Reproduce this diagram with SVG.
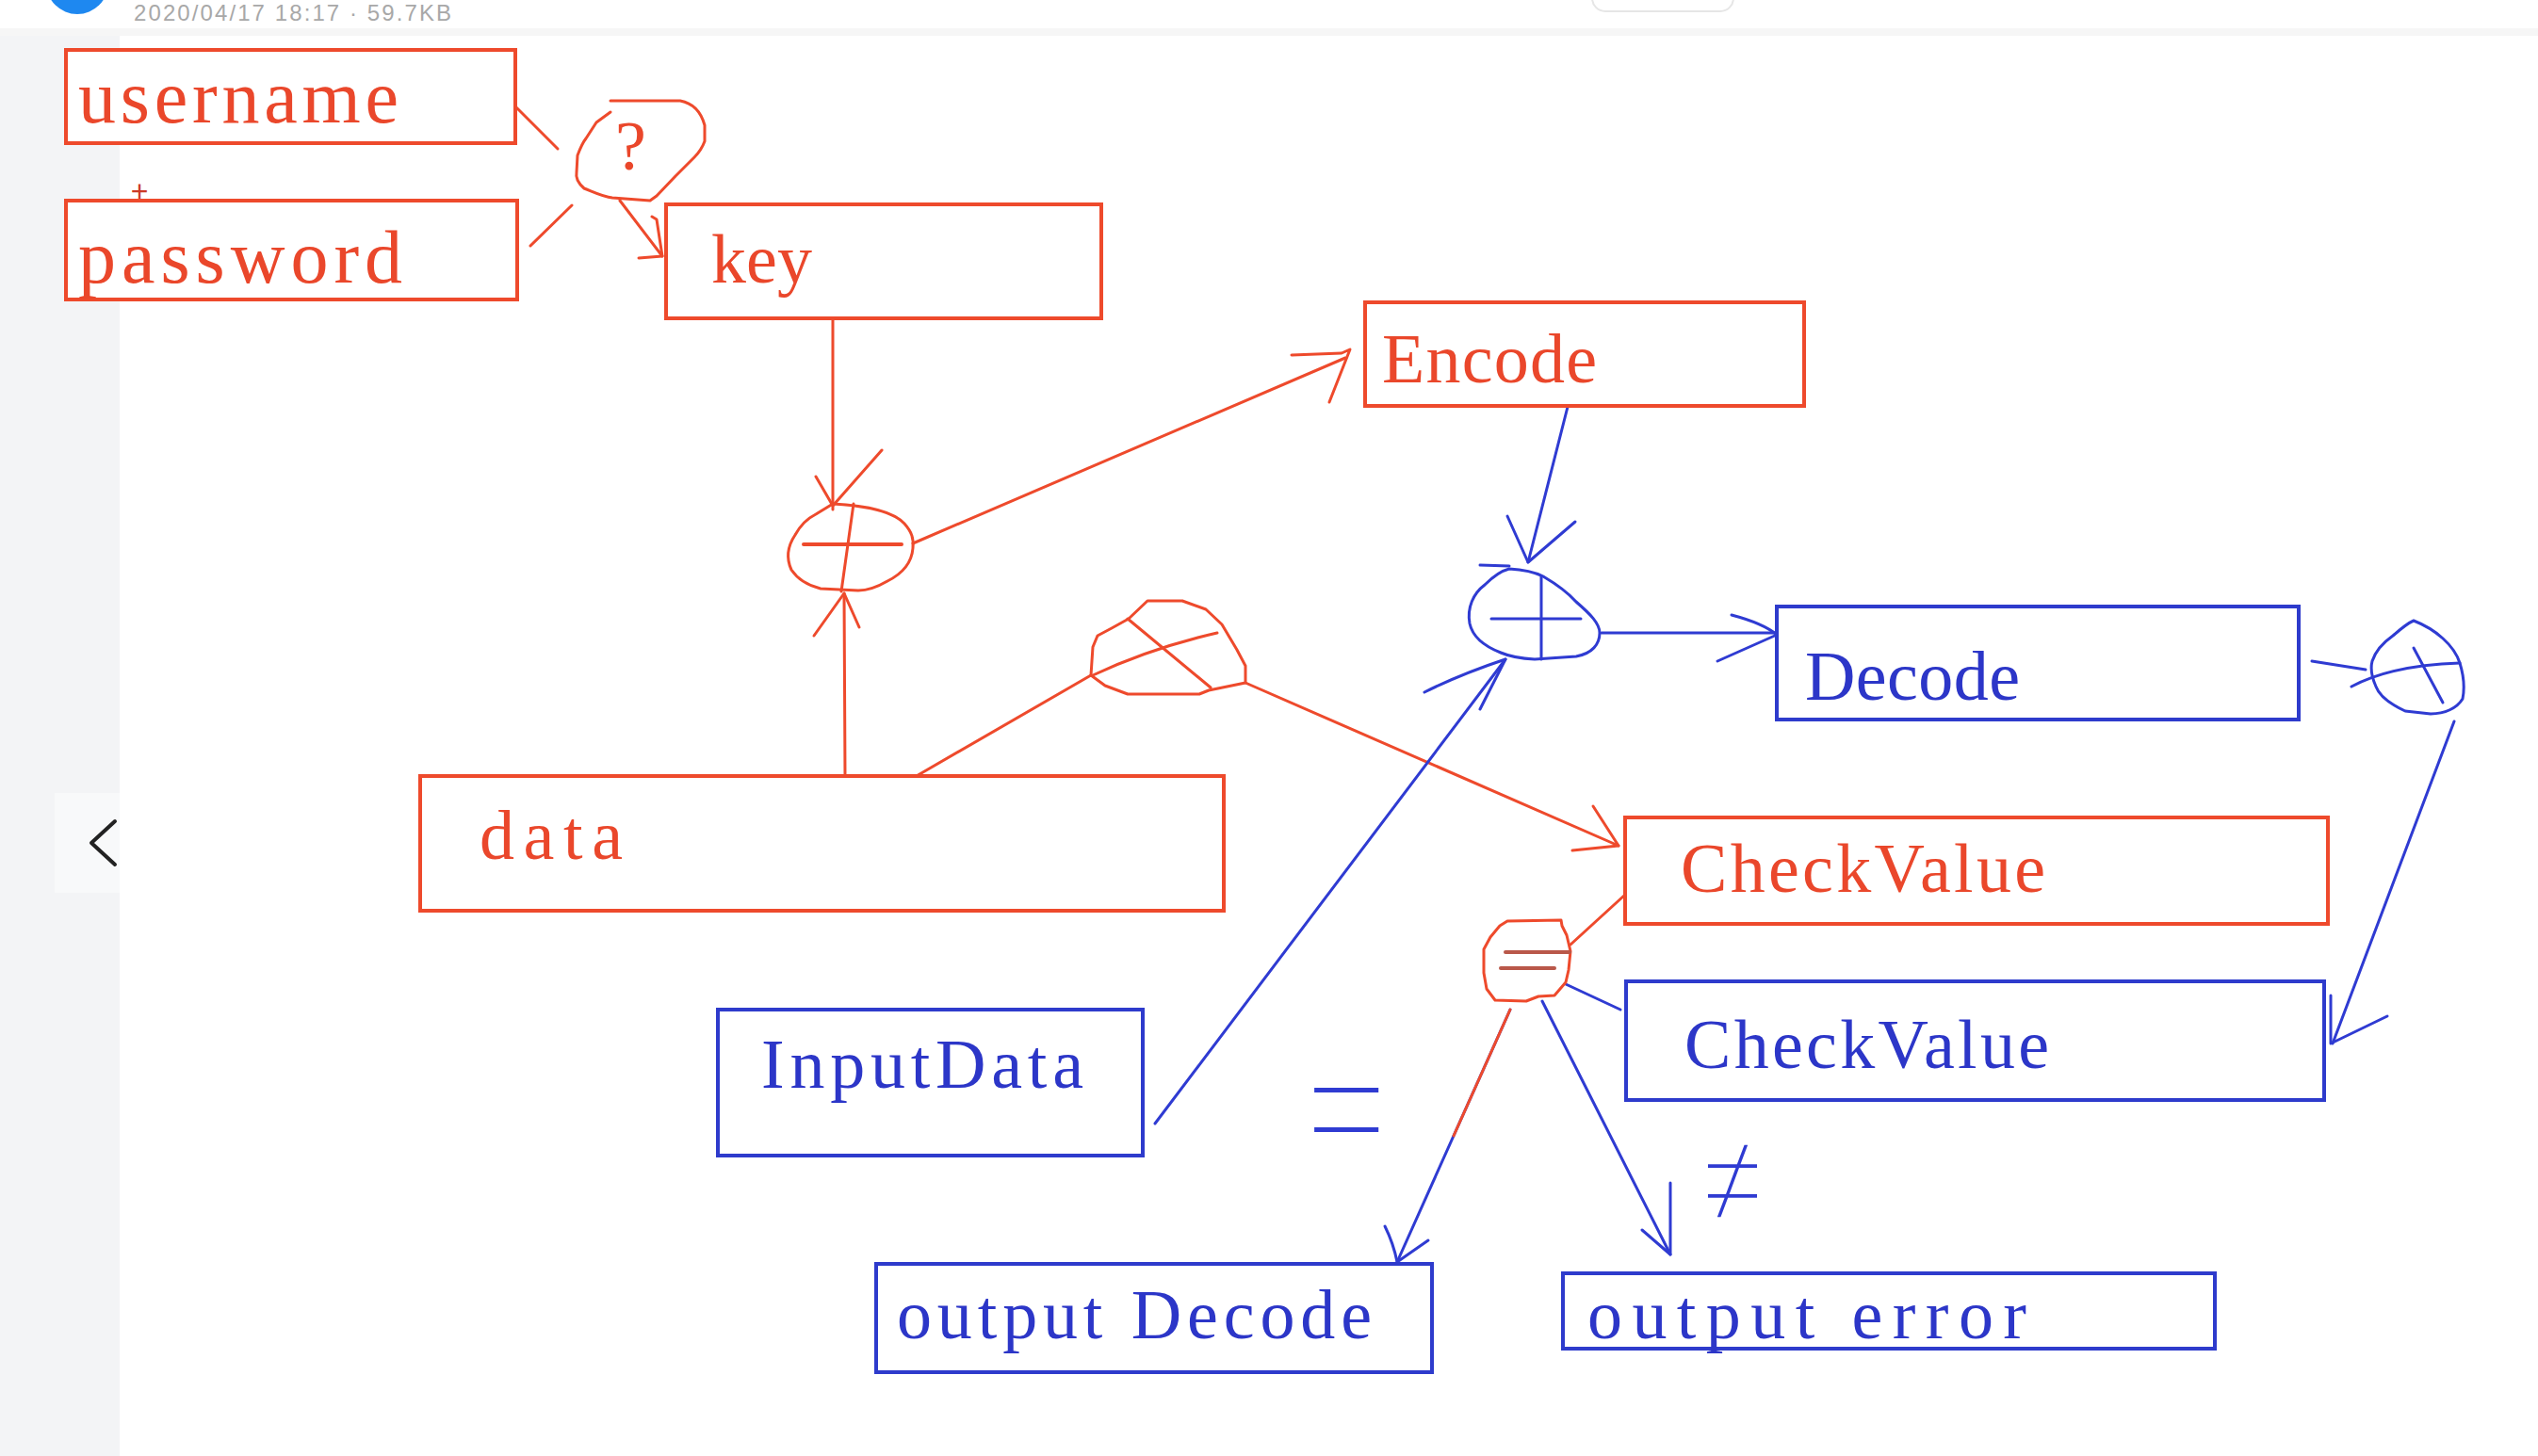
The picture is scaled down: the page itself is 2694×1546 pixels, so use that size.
<svg xmlns="http://www.w3.org/2000/svg" width="2694" height="1546" viewBox="0 0 2694 1546">
<defs>
<style>
.r{fill:none;stroke:#ee4a2c;stroke-width:3;stroke-linecap:round;stroke-linejoin:round}
.b{fill:none;stroke:#2f3bd2;stroke-width:3;stroke-linecap:round;stroke-linejoin:round}
.boxr{fill:#fff;stroke:#ee4a2c;stroke-width:4}
.boxb{fill:#fff;stroke:#2e3bcc;stroke-width:4}
.t{font-family:"Liberation Serif","DejaVu Serif",serif;font-size:74px}
.big{font-size:80px}
.tr{fill:#ea472b}
.tb{fill:#2c36c8}
.eq{fill:none;stroke:#b9584a;stroke-width:4;stroke-linecap:round}
.sym{font-family:Inter,Roboto,"Liberation Sans",sans-serif;font-weight:100;fill:#2f3bd2}
</style>
</defs>
<rect x="0" y="0" width="2694" height="1546" fill="#ffffff"/>
<g id="chrome">
<rect x="0" y="30" width="2694" height="8" fill="#f6f6f6"/>
<rect x="0" y="38" width="127" height="1508" fill="#f3f4f6"/>
<rect x="58" y="842" width="69" height="106" fill="#f8f9fa"/>
<polyline points="122,872 97,895 122,918" fill="none" stroke="#222" stroke-width="4" stroke-linecap="round" stroke-linejoin="round"/>
<circle cx="82" cy="-18" r="33" fill="#1e88f0"/>
<text x="142" y="22" font-family="Liberation Sans, Arial, sans-serif" font-size="24" fill="#a8a8a8" textLength="337" lengthAdjust="spacing">2020/04/17 18:17 · 59.7KB</text>
<rect x="1690" y="-30" width="150" height="42" rx="14" fill="#fff" stroke="#e6e6e6" stroke-width="2"/>
</g>

<g id="connectors">
<!-- red -->
<path class="r" d="M547,113 L592,158"/>
<path class="r" d="M563,261 L607,218"/>
<path class="r" d="M658,213 L703,272"/>
<path class="r" d="M678,274 L703,272 L697,233 L692,230"/>
<path class="r" d="M884,338 L884,541"/>
<path class="r" d="M866,506 L884,537 L936,478"/>
<path class="r" d="M897,824 L896,630"/>
<path class="r" d="M864,675 L896,630 L912,666"/>
<path class="r" d="M969,577 L1428,380"/>
<path class="r" d="M1371,377 L1424,375 L1433,371 L1411,427"/>
<path class="r" d="M971,825 L1158,717"/>
<path class="r" d="M1322,725 L1718,898"/>
<path class="r" d="M1691,856 L1718,898 L1669,903"/>
<path class="r" d="M1667,1003 L1725,950"/>
<!-- blue -->
<path class="b" d="M1664,432 L1622,597"/>
<path class="b" d="M1600,548 L1622,597 L1672,554"/>
<path class="b" d="M1700,672 L1885,672"/>
<path class="b" d="M1838,653 Q1872,662 1886,674 L1823,702"/>
<path class="b" d="M1226,1193 L1598,700"/>
<path class="b" d="M1512,735 Q1550,716 1598,700 L1571,753"/>
<path class="b" d="M2454,702 L2511,711"/>
<path class="b" d="M2605,766 L2476,1108"/>
<path class="b" d="M2474,1057 L2474,1108 L2534,1079"/>
<path class="b" d="M1662,1045 L1720,1072"/>
<path class="b" d="M1603,1072 L1483,1340"/>
<path class="r" d="M1603,1072 L1543,1206"/>
<path class="b" d="M1470,1302 Q1479,1320 1483,1340 L1516,1317"/>
<path class="b" d="M1637,1063 L1773,1332"/>
<path class="b" d="M1773,1256 L1773,1332 L1743,1306"/>
</g>

<g id="username"><rect class="boxr" x="70" y="53" width="477" height="99"/><text class="t big tr" x="83" y="130" textLength="340" lengthAdjust="spacing">username</text></g>
<g id="password"><rect class="boxr" x="70" y="213" width="479" height="105"/><text class="t big tr" x="83" y="300" textLength="344" lengthAdjust="spacing">password</text></g>
<g id="plus"><text x="148" y="214" text-anchor="middle" font-family="Liberation Sans, Arial, sans-serif" font-size="32" fill="#cc3a25">+</text></g>
<g id="key"><rect class="boxr" x="707" y="217" width="462" height="121"/><text class="t tr" x="755" y="300" textLength="107" lengthAdjust="spacing">key</text></g>
<g id="encode"><rect class="boxr" x="1449" y="321" width="466" height="110"/><text class="t tr" x="1467" y="406" textLength="228" lengthAdjust="spacing">Encode</text></g>
<g id="data"><rect class="boxr" x="446" y="824" width="853" height="143"/><text class="t tr" x="509" y="912" textLength="152" lengthAdjust="spacing">data</text></g>
<g id="checkvalue-red"><rect class="boxr" x="1725" y="868" width="746" height="113"/><text class="t tr" x="1784" y="947" textLength="387" lengthAdjust="spacing">CheckValue</text></g>
<g id="decode"><rect class="boxb" x="1886" y="644" width="554" height="120"/><text class="t tb" x="1916" y="743" textLength="228" lengthAdjust="spacing">Decode</text></g>
<g id="checkvalue-blue"><rect class="boxb" x="1726" y="1042" width="741" height="126"/><text class="t tb" x="1788" y="1134" textLength="387" lengthAdjust="spacing">CheckValue</text></g>
<g id="inputdata"><rect class="boxb" x="762" y="1072" width="451" height="155"/><text class="t tb" x="808" y="1155" textLength="342" lengthAdjust="spacing">InputData</text></g>
<g id="output-decode"><rect class="boxb" x="930" y="1342" width="590" height="115"/><text class="t tb" x="952" y="1421" textLength="504" lengthAdjust="spacing">output Decode</text></g>
<g id="output-error"><rect class="boxb" x="1659" y="1352" width="692" height="80"/><text class="t tb" x="1685" y="1421" textLength="466" lengthAdjust="spacing">output error</text></g>

<g id="op-question">
<path class="r" d="M648,107 L722,107 C738,110 745,122 748,133 L748,150 C745,158 742,162 737,167 L717,187 L697,208 L690,213 L650,210 C640,209 628,203 620,200 C612,193 611,188 612,183 L613,165 C616,157 618,152 622,147 L633,130 L648,119"/>
<text x="653" y="180" font-family="Liberation Serif, serif" font-size="74" fill="#ea472b">?</text>
</g>
<g id="op-plus-red">
<path class="r" d="M884,535 C905,536 945,540 960,556 C968,565 970,572 969,582 C968,595 960,608 942,617 C930,624 920,627 911,627 L871,625 C855,621 846,614 840,605 C834,592 836,580 844,568 C850,557 858,550 866,546 Z"/>
<path class="r" style="stroke-width:4" d="M853,578 L957,578"/>
<path class="r" d="M906,535 L893,628"/>
</g>
<g id="op-cross-red">
<path class="r" d="M1158,717 L1160,687 L1165,675 L1180,667 L1198,657 L1218,638 L1255,638 L1280,647 L1297,663 L1313,690 L1322,707 L1322,725 L1283,733 L1273,737 L1197,737 L1173,728 Z"/>
<path class="r" d="M1160,717 Q1222,688 1292,672"/>
<path class="r" d="M1197,657 L1285,730"/>
</g>
<g id="op-plus-blue">
<path class="b" d="M1602,604 C1620,605 1630,608 1638,612 C1655,622 1665,630 1673,639 C1688,652 1698,662 1698,672 C1698,684 1690,694 1673,697 L1629,700 C1610,699 1600,696 1593,693 C1575,686 1563,676 1560,662 C1557,645 1564,630 1576,621 C1585,612 1594,606 1602,604 Z"/>
<path class="b" d="M1571,600 L1602,601"/>
<path class="b" d="M1583,657 L1678,657"/>
<path class="b" d="M1636,612 L1636,700"/>
</g>
<g id="op-cross-blue">
<path class="b" d="M2562,659 C2585,668 2605,685 2611,704 C2616,720 2616,732 2614,742 C2608,752 2595,758 2580,758 L2553,755 C2538,748 2526,740 2522,729 C2517,718 2516,710 2518,702 C2522,690 2530,682 2540,675 C2548,668 2555,662 2562,659 Z"/>
<path class="b" d="M2496,729 Q2540,706 2611,704"/>
<path class="b" d="M2562,688 L2593,746"/>
</g>
<g id="op-equal">
<path class="r" d="M1600,978 L1657,977 L1658,983 L1663,993 L1667,1010 L1665,1030 L1662,1043 L1650,1057 L1633,1058 L1620,1063 L1587,1062 L1578,1050 L1575,1033 L1575,1008 L1582,995 L1592,983 Z"/>
<path class="eq" d="M1598,1011 L1666,1011"/>
<path class="eq" d="M1593,1028 L1650,1028"/>
</g>
<g id="labels">
<text class="sym" transform="translate(1365,1241) scale(1.55,1.7)" font-size="130">=</text>
<text class="sym" transform="translate(1790,1301) scale(1.4,1.5)" font-size="110">≠</text>
</g>
</svg>
